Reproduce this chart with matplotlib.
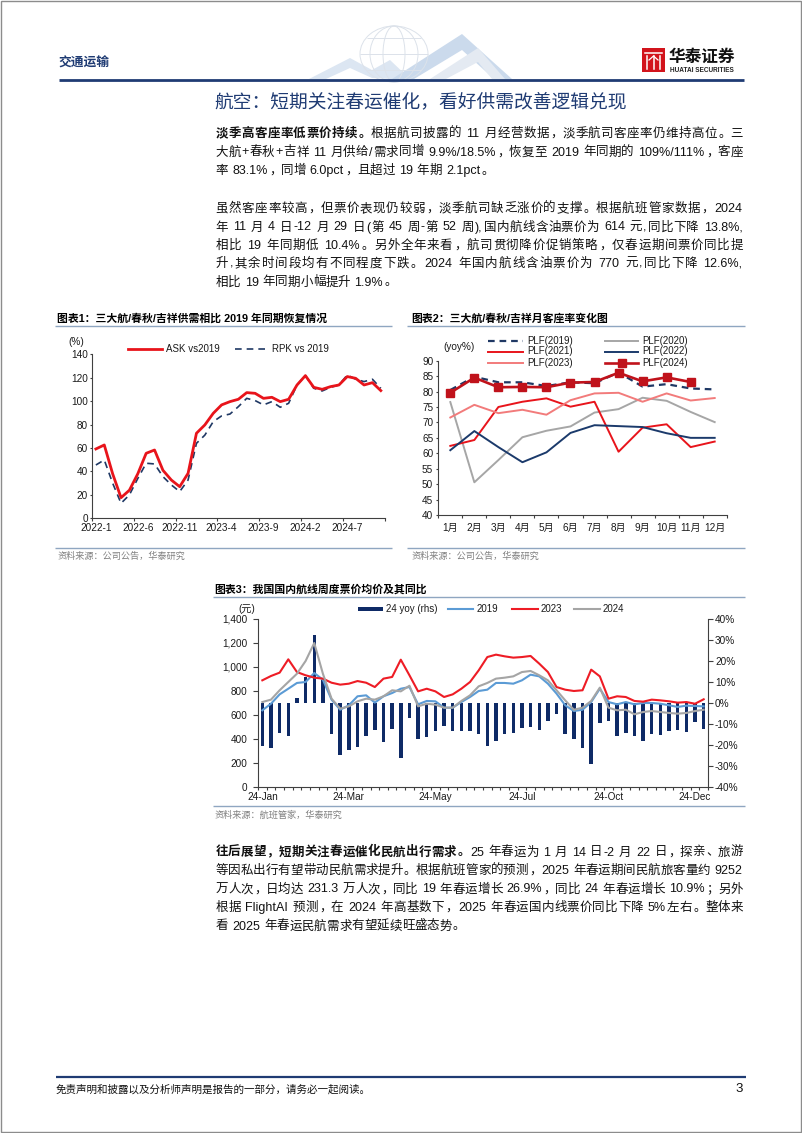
import matplotlib
matplotlib.use("Agg")
import matplotlib.pyplot as plt
from matplotlib.patches import Rectangle, Polygon, Ellipse
from matplotlib.ticker import FuncFormatter

plt.rcParams['font.family'] = ['Liberation Sans', 'Noto Sans CJK SC']
plt.rcParams['axes.unicode_minus'] = False

# 图表1: 三大航/春秋/吉祥 供需相比2019年 (2022-1 .. 2024-11, monthly, %)
month_labels_1 = ["2022-1", "2022-6", "2022-11", "2023-4", "2023-9", "2024-2", "2024-7"]
ask_vs2019 = [59.2, 62.6, 38.0, 17.6, 24.0, 38.0, 55.5, 58.3, 41.0, 32.7, 27.0, 38.4,
              72.6, 79.7, 89.6, 96.8, 99.6, 101.6, 107.3, 106.7, 102.4, 103.3, 99.6, 101.6,
              113.8, 121.8, 111.8, 110.1, 112.4, 113.8, 121.0, 119.5, 113.8, 115.8, 109.0]
rpk_vs2019 = [45.5, 49.8, 30.0, 12.8, 20.0, 34.0, 47.0, 46.4, 35.6, 28.5, 22.8, 32.7,
              64.0, 71.0, 82.5, 87.4, 89.0, 95.3, 102.4, 100.5, 96.8, 99.6, 94.8, 98.2,
              113.8, 121.8, 111.0, 108.7, 111.8, 113.8, 122.4, 118.7, 116.7, 118.7, 111.0]

# 图表2: 月客座率 (%)
months_2 = ["1月", "2月", "3月", "4月", "5月", "6月", "7月", "8月", "9月", "10月", "11月", "12月"]
plf_2019 = [80.5, 84.8, 83.0, 83.0, 81.8, 83.0, 82.7, 86.2, 81.6, 82.4, 81.0, 80.7]
plf_2020 = [76.6, 50.6, 57.8, 65.2, 67.3, 68.7, 73.2, 74.3, 78.0, 77.0, 73.4, 70.1]
plf_2021 = [62.4, 64.3, 75.0, 76.7, 77.8, 75.1, 76.7, 60.5, 68.3, 69.4, 62.0, 63.8]
plf_2022 = [61.0, 67.2, 62.0, 57.1, 60.3, 66.6, 69.1, 68.8, 68.5, 66.5, 65.0, 65.0]
plf_2023 = [71.6, 75.7, 73.0, 74.1, 72.5, 77.2, 79.4, 79.6, 76.7, 79.4, 77.1, 77.9]
plf_2024 = [79.6, 84.5, 81.4, 81.5, 81.4, 82.9, 83.1, 86.1, 83.3, 84.6, 83.1]
plf_names = ["PLF(2019)", "PLF(2020)", "PLF(2021)", "PLF(2022)", "PLF(2023)", "PLF(2024)"]

# 图表3: 国内航线周度票价 (元) 及 2024 同比 (%), 52 weeks
week_labels = ["24-Jan", "24-Mar", "24-May", "24-Jul", "24-Oct", "24-Dec"]
yoy_2024 = [-20.6, -21.2, -14.1, -15.8, 2.5, 12.4, 32.6, 11.1, -14.6, -25.0,
            -22.2, -20.9, -15.5, -13.0, -18.4, -12.2, -26.0, -7.0, -17.3, -16.2,
            -13.3, -11.1, -13.2, -13.2, -13.3, -15.0, -20.6, -18.0, -14.6, -14.3,
            -11.7, -11.4, -12.7, -8.6, -5.1, -14.9, -17.0, -21.2, -29.2, -9.5,
            -8.6, -15.8, -14.3, -15.8, -18.0, -14.9, -15.2, -13.3, -12.7, -13.9,
            -8.9, -12.4]
fare_2019 = [639, 694, 772, 819, 867, 875, 950, 894, 728, 644,
             681, 756, 764, 703, 756, 783, 819, 833, 689, 717,
             714, 661, 661, 708, 750, 800, 811, 867, 867, 861,
             889, 936, 922, 861, 778, 681, 633, 644, 708, 819,
             708, 689, 708, 689, 700, 700, 694, 681, 667, 678,
             675, 672]
fare_2023 = [889, 925, 953, 1064, 958, 931, 911, 903, 869, 853,
             861, 883, 869, 833, 903, 917, 1061, 931, 797, 819,
             797, 750, 772, 819, 875, 972, 1083, 1103, 1089, 1078,
             1083, 1092, 1028, 958, 833, 811, 800, 806, 978, 922,
             736, 756, 750, 717, 711, 728, 722, 714, 703, 708,
             694, 731]
fare_2024 = [708, 728, 806, 875, 944, 1050, 1200, 944, 736, 653,
             672, 714, 736, 728, 756, 806, 797, 844, 672, 694,
             686, 661, 661, 717, 764, 839, 867, 903, 911, 922,
             958, 967, 931, 889, 806, 722, 644, 661, 717, 828,
             661, 639, 644, 606, 625, 633, 625, 617, 611, 617,
             633, 644]
legend_3 = ["24 yoy (rhs)", "2019", "2023", "2024"]

# page text
title = "航空：短期关注春运催化，看好供需改善逻辑兑现"
para1 = [
    [("淡季高客座率低票价持续。", True), ("根据航司披露的 11 月经营数据，淡季航司客座率仍维持高位。三", False)],
    [("大航+春秋+吉祥 11 月供给/需求同增 9.9%/18.5%，恢复至 2019 年同期的 109%/111%，客座", False)],
    [("率 83.1%，同增 6.0pct，且超过 19 年期 2.1pct。", False)],
]
para2 = [
    [("虽然客座率较高，但票价表现仍较弱，淡季航司缺乏涨价的支撑。根据航班管家数据，2024", False)],
    [("年 11 月 4 日-12 月 29 日(第 45 周-第 52 周),国内航线含油票价为 614 元,同比下降 13.8%,", False)],
    [("相比 19 年同期低 10.4%。另外全年来看，航司贯彻降价促销策略，仅春运期间票价同比提", False)],
    [("升,其余时间段均有不同程度下跌。2024 年国内航线含油票价为 770 元,同比下降 12.6%,", False)],
    [("相比 19 年同期小幅提升 1.9%。", False)],
]
para3 = [
    [("往后展望，短期关注春运催化民航出行需求。", True), ("25 年春运为 1 月 14 日-2 月 22 日，探亲、旅游", False)],
    [("等因私出行有望带动民航需求提升。根据航班管家的预测，2025 年春运期间民航旅客量约 9252", False)],
    [("万人次，日均达 231.3 万人次，同比 19 年春运增长 26.9%，同比 24 年春运增长 10.9%；另外", False)],
    [("根据 FlightAI 预测，在 2024 年高基数下，2025 年春运国内线票价同比下降 5%左右。整体来", False)],
    [("看 2025 年春运民航需求有望延续旺盛态势。", False)],
]

W, H = 802, 1133
NAVY = '#1F3B73'
RULE = '#8FA6C1'
AXC = '#404040'
fig = plt.figure(figsize=(W / 100, H / 100), dpi=100)
renderer = fig.canvas.get_renderer()

# full-page overlay in pixel coordinates (y down)
deco = fig.add_axes([0, 0, 1, 1])
deco.set_xlim(0, W)
deco.set_ylim(H, 0)
deco.axis('off')


def box(x0, ytop, x1, ybot):
    ax = fig.add_axes([x0 / W, 1 - ybot / H, (x1 - x0) / W, (ybot - ytop) / H])
    ax.set_facecolor('none')
    return ax


def hline(x0, x1, y, color=RULE, lw=1.0, **kw):
    deco.plot([x0, x1], [y, y], color=color, lw=lw, solid_capstyle='butt', **kw)


def label(x, y, s, size=7.2, **kw):
    kw.setdefault('va', 'center')
    kw.setdefault('color', '#1A1A1A')
    return deco.text(x, y, s, fontsize=size, **kw)


def text_line(x0, x1, y, segs, size=9.0, justify=True, color='#111111'):
    # lay out one line token by token so it can be justified like the source
    px = size * 100 / 72
    items = []
    for s, bold in segs:
        run = ''
        for ch in s:
            if ch != ' ' and ord(ch) < 128:
                run += ch
                continue
            if run:
                items.append((run, bold))
                run = ''
            items.append((ch, bold))
        if run:
            items.append((run, bold))
    arts, widths = [], []
    base = y + 0.36 * px
    for s, bold in items:
        fw = 'bold' if bold else 'normal'
        if s == ' ':
            arts.append(None)
            widths.append(0.278 * px)
        elif ord(s[0]) >= 128:
            ha = 'center'
            if s in '，。：、；）':
                ha = 'left'
            elif s == '（':
                ha = 'right'
            t = deco.text(0, base, s, fontsize=size, color=color, fontweight=fw,
                          va='baseline', ha=ha)
            arts.append(t)
            widths.append(px)
        else:
            t = deco.text(0, base, s, fontsize=size, color=color, fontweight=fw,
                          va='baseline', ha='left')
            arts.append(t)
            widths.append(t.get_window_extent(renderer).width + 0.1 * px)
    gap = 0.0
    if justify and len(items) > 1:
        gap = (x1 - x0 - sum(widths)) / (len(items) - 1)
    x = x0
    for t, w in zip(arts, widths):
        if t is not None:
            ha = t.get_ha()
            if ha == 'center':
                t.set_x(x + w / 2)
            elif ha == 'right':
                t.set_x(x + 0.92 * w)
            elif len(t.get_text()) == 1 and ord(t.get_text()) >= 128:
                t.set_x(x + 0.08 * w)
            else:
                t.set_x(x + 0.05 * px)
        x += w + gap


def paragraph(lines, ys, x0=215.5, x1=743):
    for i, (segs, y) in enumerate(zip(lines, ys)):
        text_line(x0, x1, y, segs, justify=(i < len(lines) - 1))


def style(ax):
    for s in ['top', 'right']:
        ax.spines[s].set_visible(False)
    for s in ['left', 'bottom']:
        ax.spines[s].set_color(AXC)
        ax.spines[s].set_linewidth(0.8)
    ax.tick_params(which='both', colors=AXC, labelcolor='#1A1A1A', labelsize=7.2,
                   direction='out', width=0.8)


# ---------------- page frame, header, footer ----------------
deco.add_patch(Rectangle((0.5, 0.5), W - 1.5, H - 1.5, fill=False, ec='#8C8C8C', lw=1.0))

# faint globe / chevron artwork
deco.add_patch(Polygon([(309, 79), (350, 58), (372, 70), (390, 60), (410, 79), (392, 79),
                        (372, 78), (350, 68), (326, 79)], closed=True, fc='#DCE6F2', ec='none'))
deco.add_patch(Polygon([(392, 79), (462, 34), (512, 79), (494, 79), (462, 50), (414, 79)],
                       closed=True, fc='#CBDAEC', ec='none'))
deco.add_patch(Polygon([(430, 79), (478, 48), (505, 79), (492, 79), (478, 62), (446, 79)],
                       closed=True, fc='#E4EAF2', ec='none'))
for rx in (34, 24, 11):
    deco.add_patch(Ellipse((394, 54), 2 * rx, 56, fill=False, ec='#DCE2EA', lw=0.7))
for yy, half in ((38, 27), (54, 34), (70, 27)):
    hline(394 - half, 394 + half, yy, color='#DCE2EA', lw=0.7)

label(58, 64, "交通运输", size=9.2, color=NAVY, fontweight='bold')
hline(59, 744, 79.5, color=NAVY, lw=2.0)

# logo
deco.add_patch(Rectangle((642, 48), 23, 24, fc='#D2141C', ec='none'))
for xx in (647, 653.5, 660):
    deco.plot([xx, xx], [56, 69], color='white', lw=1.1)
deco.plot([645, 662], [53, 53], color='white', lw=1.1)
deco.plot([649, 653.5, 658], [60, 56, 60], color='white', lw=0.9)
label(669, 57, "华泰证券", size=12.0, color='#111111', fontweight='bold')
label(670, 71, "HUATAI SECURITIES", size=4.7, color='#222222', fontweight='bold')

label(214, 102, title, size=13.5, color=NAVY)

paragraph(para1, [132.5, 151, 169.5])
paragraph(para2, [207.5, 226, 244.5, 262.5, 281])
paragraph(para3, [851, 869.5, 888, 906.5, 925])

hline(56, 746, 1077, color=NAVY, lw=1.6)
label(56, 1089.5, "免责声明和披露以及分析师声明是报告的一部分，请务必一起阅读。", size=7.6,
      color='#111111', style='italic')
label(743, 1089.5, "3", size=9.5, color='#111111', ha='right')

# ---------------- 图表1 ----------------
label(57, 318.5, "图表1：三大航/春秋/吉祥供需相比 2019 年同期恢复情况", size=7.8,
      color='#000000', fontweight='bold')
hline(55, 392, 325.5)
hline(55, 392, 547.5)
label(58, 556, "资料来源：公司公告，华泰研究", size=6.6, color='#808080')

ax1 = box(91.7, 354.3, 385, 518.3)
n1 = len(ask_vs2019)
xs1 = list(range(n1))
ax1.plot(xs1, rpk_vs2019, color='#1F3864', lw=1.2, dashes=(4, 3), zorder=2)
ax1.plot(xs1, ask_vs2019, color='#E8141B', lw=2.0, solid_joinstyle='round', zorder=3)
ax1.set_xlim(-0.5, n1 - 0.5)
ax1.set_ylim(0, 140)
ax1.set_yticks(range(0, 141, 20))
ax1.set_xticks(range(0, n1, 5))
ax1.set_xticklabels(month_labels_1)
ax1.set_xticks([i - 0.5 for i in range(0, n1 + 1, 5)], minor=True)
style(ax1)
ax1.tick_params(axis='x', which='major', length=0, pad=3.6)
ax1.tick_params(axis='x', which='minor', length=2.5)
ax1.tick_params(axis='y', length=1.6, pad=1.0)

label(76, 342, "(%)", ha='center')
deco.plot([128, 162], [349, 349], color='#E8141B', lw=2.0)
label(166, 349, "ASK vs2019", size=7.0)
deco.plot([235, 268], [349, 349], color='#1F3864', lw=1.2, dashes=(4, 3))
label(272, 349, "RPK vs 2019", size=7.0)

# ---------------- 图表2 ----------------
label(411, 318.5, "图表2：三大航/春秋/吉祥月客座率变化图", size=7.8,
      color='#000000', fontweight='bold')
hline(407, 745, 325.5)
hline(407, 745, 547.5)
label(412, 556, "资料来源：公司公告，华泰研究", size=6.6, color='#808080')

ax2 = box(438.3, 360.7, 726.7, 515)
xs2 = list(range(len(months_2)))
styles2 = [
    dict(color='#1F3864', lw=1.6, dashes=(3, 2.2)),
    dict(color='#A6A6A6', lw=1.4),
    dict(color='#E8141B', lw=1.4),
    dict(color='#1B3A6B', lw=1.4),
    dict(color='#F27B7B', lw=1.4),
    dict(color='#C0121B', lw=1.9, marker='s', ms=5.5),
]
series2 = [plf_2019, plf_2020, plf_2021, plf_2022, plf_2023, plf_2024]
for vals, st in zip(series2, styles2):
    ax2.plot(xs2[:len(vals)], vals, **st)
ax2.set_xlim(-0.5, len(months_2) - 0.5)
ax2.set_ylim(40, 90)
ax2.set_yticks(range(40, 91, 5))
ax2.set_xticks(xs2)
ax2.set_xticklabels(months_2)
ax2.set_xticks([i - 0.5 for i in range(len(months_2) + 1)], minor=True)
style(ax2)
ax2.tick_params(axis='x', which='major', length=0, pad=5.5)
ax2.tick_params(axis='x', which='minor', length=2.5)
ax2.tick_params(axis='y', length=1.8, pad=1.8)

label(459, 346.7, "(yoy%)", ha='center')
rows = [340.5, 351.5, 362.5]
for k, (name, st) in enumerate(zip(plf_names, styles2)):
    r, c = divmod(k, 2)
    lx0, lx1, tx = (488, 523, 527) if c == 0 else (605, 638, 642)
    deco.plot([lx0, lx1], [rows[r], rows[r]], **{q: v for q, v in st.items() if q not in ('marker', 'ms')})
    if 'marker' in st:
        deco.plot([(lx0 + lx1) / 2], [rows[r]], marker=st['marker'], ms=st['ms'], color=st['color'])
    label(tx, rows[r], name, size=7.0)

# ---------------- 图表3 ----------------
label(214, 589, "图表3：我国国内航线周度票价均价及其同比", size=7.8,
      color='#000000', fontweight='bold')
hline(213, 745, 596.5)
hline(213, 745, 806)
label(215, 815, "资料来源：航班管家，华泰研究", size=6.6, color='#808080')

ax3 = box(258, 619, 708, 787)
n3 = len(yoy_2024)
xs3 = list(range(n3))
ax3.bar(xs3, yoy_2024, width=0.4, color='#0E2A66', zorder=2)
ax3.set_xlim(-0.5, n3 - 0.5)
ax3.set_ylim(-40, 40)
ax3.set_yticks(range(-40, 41, 10))
ax3.yaxis.set_major_formatter(FuncFormatter(lambda v, _: f"{v:.0f}%"))
ax3.set_xticks(range(0, n3, 10))
ax3.set_xticklabels(week_labels)
ax3.set_xticks([i - 0.5 for i in range(n3 + 1)], minor=True)

ax3b = ax3.twinx()
ax3b.plot(xs3, fare_2019, color='#5B9BD5', lw=1.5, zorder=3)
ax3b.plot(xs3, fare_2023, color='#EE1C25', lw=1.5, zorder=3)
ax3b.plot(xs3, fare_2024, color='#A5A5A5', lw=1.5, zorder=3)
ax3b.set_ylim(0, 1400)
ax3b.set_yticks(range(0, 1401, 200))
ax3b.yaxis.set_major_formatter(FuncFormatter(lambda v, _: f"{v:,.0f}"))
ax3b.yaxis.tick_left()
ax3b.yaxis.set_label_position('left')
for s in ax3b.spines.values():
    s.set_visible(False)
ax3b.tick_params(axis='y', colors=AXC, labelcolor='#1A1A1A', labelsize=7.2,
                 direction='out', width=0.8, length=3.5, pad=4)

# twinx moved the bar axis ticks to the left; put them back on the right
ax3.yaxis.tick_right()
ax3.yaxis.set_label_position('right')
ax3.spines['top'].set_visible(False)
for s in ['left', 'right', 'bottom']:
    ax3.spines[s].set_visible(True)
    ax3.spines[s].set_color(AXC)
    ax3.spines[s].set_linewidth(0.8)
ax3.tick_params(which='both', colors=AXC, labelcolor='#1A1A1A', labelsize=7.2,
                direction='out', width=0.8)
ax3.tick_params(axis='x', which='major', length=0, pad=3.6)
ax3.tick_params(axis='x', which='minor', length=2.2)
ax3.tick_params(axis='y', length=3.5, pad=1.5, left=False, labelleft=False,
                right=True, labelright=True)

label(246.7, 609, "(元)", ha='center')
deco.add_patch(Rectangle((358, 607), 25, 4, fc='#0E2A66', ec='none'))
label(386, 609, legend_3[0], size=7.0)
deco.plot([448, 473], [609, 609], color='#5B9BD5', lw=1.5)
label(477, 609, legend_3[1], size=7.0)
deco.plot([512, 538], [609, 609], color='#EE1C25', lw=1.5)
label(541, 609, legend_3[2], size=7.0)
deco.plot([574, 600], [609, 609], color='#A5A5A5', lw=1.5)
label(603, 609, legend_3[3], size=7.0)

fig.savefig("out.png", dpi=100)
